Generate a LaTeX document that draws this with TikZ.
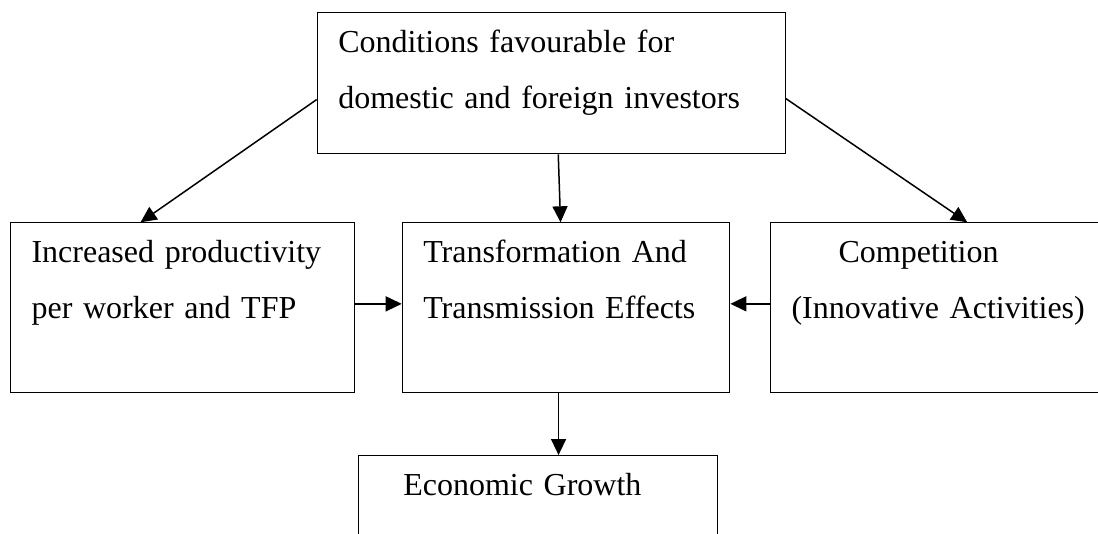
\documentclass[tikz,border=0pt]{standalone}
\usepackage{fontspec}
\setmainfont{Liberation Serif}
\usetikzlibrary{arrows.meta}

\tikzset{
  blk/.style={draw,line width=1.1pt,anchor=north west,inner ysep=0pt,inner xsep=21pt,
    align=left,text height=40pt,font=\fontsize{32}{56}\selectfont},
}

\begin{document}
\begin{tikzpicture}[x=1pt,y=-1pt,>={Triangle[length=16pt,width=15pt]},line width=1.5pt]
    \useasboundingbox (0,0) rectangle (1098,533);
    \clip (0,0) rectangle (1098,533);

    \node[blk,text width=426pt,text depth=101.6pt] (cond) at (316.7,11.7) {Conditions favourable for\\domestic and foreign investors};
    \node[blk,text width=302pt,text depth=129.4pt] (incr) at (10,222.3) {Increased productivity\\per worker and TFP};
    \node[blk,text width=285.6pt,text depth=129.4pt] (trans) at (401.7,222.3) {Transformation And\\Transmission Effects};
    \node[blk,text width=300pt,text depth=129.4pt] (comp) at (770,222.3) {\hspace*{47pt}Competition\\(Innovative Activities)};
    \node[blk,text width=317pt,text depth=80pt] (growth) at (357.7,455) {\hspace*{24pt}Economic Growth};

    \path[->]
    ([yshift=-16.5pt]cond.west) edge ([xshift=-42pt]incr.north)
    ([xshift=7pt]cond.south) edge ([xshift=-5.5pt]trans.north)
    ([yshift=-15.5pt]cond.east) edge ([xshift=25.7pt]comp.north)

    ([yshift=3.7pt]incr.east) edge ([yshift=3.7pt]trans.west)
    ([yshift=3.7pt]comp.west) edge ([yshift=3.7pt]trans.east)

    ([xshift=-7.5pt]trans.south) edge ([xshift=20.8pt]growth.north)
    ;
\end{tikzpicture}
\end{document}
